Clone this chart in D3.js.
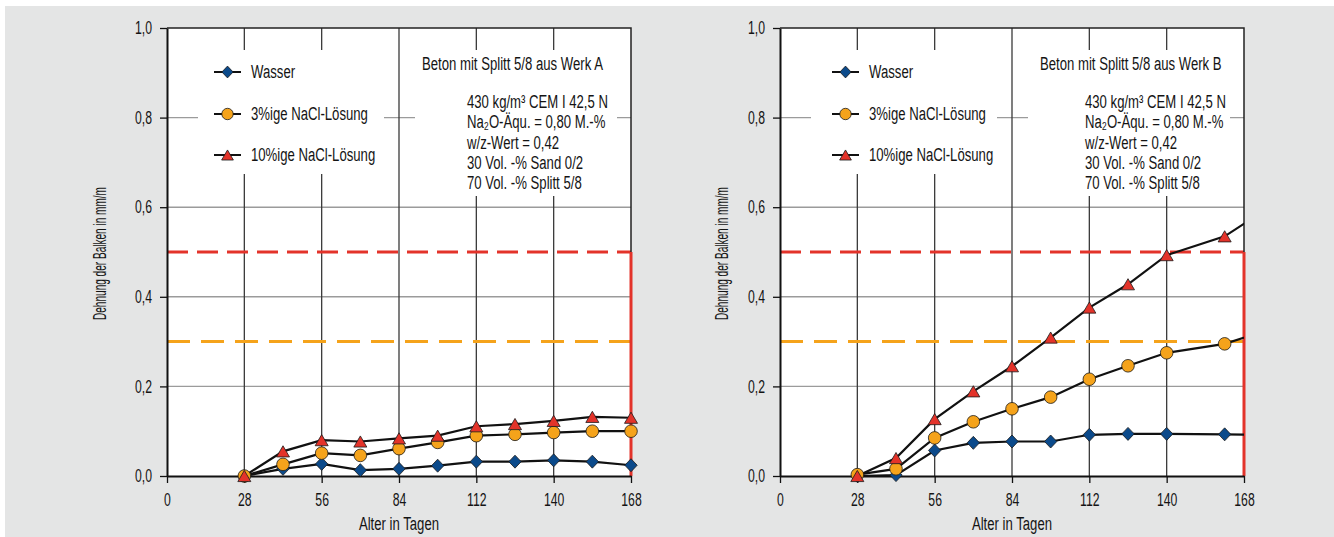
<!DOCTYPE html>
<html><head><meta charset="utf-8">
<script src="https://cdn.jsdelivr.net/npm/d3@7"></script>
<style>
body{margin:0;background:#fff;}
text{font-family:"Liberation Sans",Arial,"DejaVu Sans",sans-serif;fill:#141414;}
</style></head><body>
<svg id="c" width="1334" height="537"></svg>
<script>
// ---- data ----
const daysA = [28,42,56,70,84,98,112,126,140,154,168];
const wasserA = [0,0.016,0.027,0.013,0.016,0.023,0.032,0.032,0.035,0.032,0.024];
const nacl3A  = [0,0.026,0.051,0.046,0.061,0.075,0.090,0.093,0.097,0.100,0.100];
const nacl10A = [0,0.055,0.080,0.077,0.084,0.090,0.111,0.116,0.123,0.132,0.130];

const daysB = [28,42,56,70,84,98,112,126,140,161,182];
const wasserB = [0,0.002,0.057,0.074,0.077,0.077,0.092,0.094,0.094,0.093,0.091];
const nacl3B  = [0.003,0.016,0.085,0.121,0.150,0.176,0.216,0.246,0.275,0.295,0.337];
const nacl10B = [0,0.040,0.127,0.189,0.245,0.309,0.376,0.428,0.493,0.535,0.619];

const seriesNames = ["Wasser","3%ige NaCl-Lösung","10%ige NaCl-Lösung"];
const yTicks = [0,0.2,0.4,0.6,0.8,1.0];
const xTicks = [0,28,56,84,112,140,168];
const yGrid = [0.2,0.4,0.6,0.8];
const xGrid = [28,56,84,112,140];
const limit3 = 0.3, limit10 = 0.5, limitDay = 168;
const titles = ["Beton mit Splitt 5/8 aus Werk A","Beton mit Splitt 5/8 aus Werk B"];
const recipe = ["430 kg/m³  CEM I 42,5 N","Na₂O-Äqu. = 0,80 M.-%","w/z-Wert = 0,42","30 Vol. -% Sand 0/2","70 Vol. -% Splitt 5/8"];
const xTitle = "Alter in Tagen";
const yTitle = "Dehnung der Balken in mm/m";

// ---- styles ----
const colors = ["#0b4a8b","#f5a31b","#e3332a"];
const diamondT = {draw(c,s){c.moveTo(0,-s);c.lineTo(s*0.95,0);c.lineTo(0,s);c.lineTo(-s*0.95,0);c.closePath();}};
const circleT  = {draw(c,s){c.moveTo(s,0);c.arc(0,0,s,0,2*Math.PI);c.closePath();}};
const triT     = {draw(c,s){const h=s*1.8,w=s*2.1;c.moveTo(0,-h/2);c.lineTo(w/2,h/2);c.lineTo(-w/2,h/2);c.closePath();}};
const symTypes = [diamondT,circleT,triT];
const symSizes = [6.5,6.3,6.2];
const FS = 18;

const svg = d3.select('#c');
svg.append('rect').attr('x',5).attr('y',6).attr('width',1329).attr('height',531).attr('fill','#e4e5e5');

const W = 464, H = 448, Y0 = 28;
const panels = [
  {x0:167, days:daysA, series:[wasserA,nacl3A,nacl10A], title:titles[0], dx:0, ylabX:100},
  {x0:780, days:daysB, series:[wasserB,nacl3B,nacl10B], title:titles[1], dx:5, ylabX:722}
];

panels.forEach((p,pi) => {
  const g = svg.append('g').attr('transform',`translate(${p.x0},${Y0})`);
  const x = d3.scaleLinear().domain([0,168]).range([0,W]);
  const y = d3.scaleLinear().domain([0,1]).range([H,0]);

  g.append('rect').attr('width',W).attr('height',H).attr('fill','#fff');
  g.selectAll(null).data(yGrid).join('line')
    .attr('x1',0).attr('x2',W).attr('y1',d=>y(d)).attr('y2',d=>y(d))
    .attr('stroke','#9b9b9b').attr('stroke-width',1.4);
  g.selectAll(null).data(xGrid).join('line')
    .attr('x1',d=>x(d)).attr('x2',d=>x(d)).attr('y1',0).attr('y2',H)
    .attr('stroke','#3a3a3a').attr('stroke-width',1.3);
  g.append('rect').attr('x',31).attr('y',22).attr('width',186).attr('height',124).attr('fill','#fff');
  g.append('rect').attr('x',248).attr('y',22).attr('width',202).attr('height',146).attr('fill','#fff');

  g.append('line').attr('x1',0).attr('x2',W).attr('y1',y(limit10)).attr('y2',y(limit10))
    .attr('stroke','#e3332a').attr('stroke-width',3).attr('stroke-dasharray','21,9');
  g.append('line').attr('x1',0).attr('x2',W).attr('y1',y(limit3)).attr('y2',y(limit3))
    .attr('stroke','#f5a31b').attr('stroke-width',3).attr('stroke-dasharray','23,11');

  g.append('path').attr('d',`M0,0H${W}V${H}`).attr('fill','none').attr('stroke','#222').attr('stroke-width',1.5);
  g.append('line').attr('x1',x(limitDay)).attr('x2',x(limitDay)).attr('y1',y(limit10)).attr('y2',y(0))
    .attr('stroke','#e3332a').attr('stroke-width',3);

  const ya = d3.axisLeft(y).tickValues(yTicks).tickSize(7).tickSizeOuter(0).tickPadding(8)
    .tickFormat(d=>d.toFixed(1).replace('.',','));
  const yg = g.append('g').call(ya).attr('font-family',null).attr('font-size',FS);
  const xa = d3.axisBottom(x).tickValues(xTicks).tickSize(7).tickSizeOuter(0).tickPadding(10.5);
  const xg = g.append('g').attr('transform',`translate(0,${H})`).call(xa).attr('font-family',null).attr('font-size',FS);
  [yg,xg].forEach(a=>{
    a.select('.domain').attr('stroke','#111').attr('stroke-width',2);
    a.selectAll('.tick line').attr('stroke','#111').attr('stroke-width',1.3);
    a.selectAll('.tick text').attr('fill','#141414').classed('tk',true);
  });

  const clipId = 'clip'+pi;
  g.append('clipPath').attr('id',clipId).append('rect').attr('x',0).attr('y',-20).attr('width',W).attr('height',H+40);
  const line = d3.line().x(d=>x(d[0])).y(d=>y(d[1]));
  p.series.forEach(vals=>{
    const pts = p.days.map((d,i)=>[d,vals[i]]);
    g.append('path').attr('d',line(pts)).attr('fill','none').attr('stroke','#111')
      .attr('stroke-width',2.2).attr('clip-path',`url(#${clipId})`);
  });
  p.series.forEach((vals,si)=>{
    const pts = p.days.map((d,i)=>[d,vals[i]]).filter(d=>d[0]<=168);
    g.selectAll(null).data(pts).join('path')
      .attr('transform',d=>`translate(${x(d[0])},${y(d[1])})`)
      .attr('d',d3.symbol().type(symTypes[si]).size(symSizes[si])())
      .attr('fill',colors[si]).attr('stroke','#1a1a1a').attr('stroke-width',0.8);
  });

  const rows = [44,86,127];
  seriesNames.forEach((n,si)=>{
    const lg = g.append('g').attr('transform',`translate(${60.5+p.dx},${rows[si]})`);
    lg.append('line').attr('x1',-13.5).attr('x2',13.5).attr('stroke','#111').attr('stroke-width',2);
    lg.append('path').attr('d',d3.symbol().type(symTypes[si]).size(symSizes[si]-0.6)())
      .attr('fill',colors[si]).attr('stroke','#1a1a1a').attr('stroke-width',0.8);
    lg.append('text').attr('x',23.5).attr('dy','0.36em').attr('font-size',FS).text(n);
  });

  g.append('text').attr('x',255+p.dx).attr('y',42).attr('font-size',FS).text(p.title);
  recipe.forEach((r,ri)=>{
    g.append('text').attr('x',300+p.dx).attr('y',80+ri*20.25).attr('font-size',FS).text(r);
  });

  svg.append('text').attr('x',p.x0+x(84)).attr('y',530).attr('text-anchor','middle').attr('font-size',FS).text(xTitle);
  svg.append('text').attr('transform',`translate(${p.ylabX},253.5) rotate(-90)`)
    .attr('text-anchor','middle').attr('dy','0.36em').attr('font-size',FS)
    .attr('textLength',133).attr('lengthAdjust','spacingAndGlyphs').text(yTitle);
});

// condense all texts horizontally (reference uses a condensed face)
svg.selectAll('text').each(function(){
  if (this.hasAttribute('textLength')) return;
  const k = this.classList.contains('tk') ? 0.68 : 0.73;
  const L = this.getComputedTextLength();
  this.setAttribute('textLength', (L*k).toFixed(1));
  this.setAttribute('lengthAdjust','spacingAndGlyphs');
});
</script>
</body></html>
